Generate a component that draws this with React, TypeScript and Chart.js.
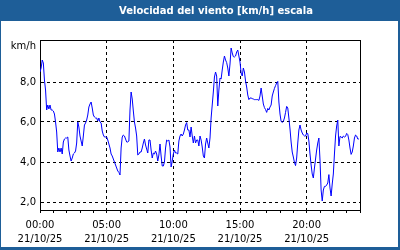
import { useEffect, useRef } from "react";
import { Chart, registerables } from "chart.js";

Chart.register(...registerables);

const TITLE = "Velocidad del viento [km/h] escala";
const UNIT = "km/h";
const DATE_LABEL = "21/10/25";
const STEP_MINUTES = 5;
const X_LABEL_HOURS = [0, 5, 10, 15, 20];
const Y_TICKS = [2, 4, 6, 8];

// wind speed every 5 minutes from 00:00 (km/h)
const speed = [
  8.5, 8.7, 9.1, 8.95, 8.1, 7.6, 6.6, 6.85, 6.65, 6.85, 6.6, 6.6,
  6.55, 6.4, 6.0, 5.5, 4.5, 4.7, 4.5, 4.7, 4.4, 5.0, 5.15, 5.2,
  5.2, 5.25, 4.6, 4.3, 4.05, 4.2, 4.4, 4.45, 4.55, 4.95, 6.0, 5.75,
  5.3, 5.05, 4.8, 5.3, 5.85, 5.95, 6.1, 6.35, 6.75, 6.9, 7.0, 6.7,
  6.35, 6.25, 6.2, 6.2, 6.05, 6.2, 6.0, 5.95, 5.55, 5.35, 5.25, 5.25,
  5.25, 5.1, 4.9, 4.7, 4.4, 4.3, 4.15, 4.0, 3.85, 3.7, 3.55, 3.48,
  3.35, 4.7, 5.25, 5.35, 5.3, 5.15, 5.0, 5.0, 5.05, 6.6, 7.5, 7.15,
  6.55, 6.0, 5.7, 5.3, 4.35, 4.4, 4.5, 4.5, 4.7, 4.95, 5.15, 4.85,
  4.65, 4.45, 5.1, 5.1, 4.6, 4.2, 4.45, 4.4, 4.55, 4.4, 4.05, 4.35,
  4.9, 4.3, 3.8, 3.8, 4.0, 4.7, 5.1, 5.05, 5.1, 4.75, 3.75, 4.05,
  4.4, 4.6, 4.45, 4.45, 4.4, 5.05, 5.3, 5.4, 5.3, 5.4, 5.6, 5.85,
  5.97, 5.6, 5.6, 5.25, 5.75, 5.3, 4.95, 5.3, 4.95, 5.1, 5.1, 4.8,
  5.3, 5.1, 4.75, 4.3, 4.2, 4.9, 5.2, 4.95, 4.7, 5.2, 6.2, 6.85,
  7.5, 8.25, 8.5, 8.3, 6.8, 7.6, 8.2, 8.15, 8.6, 9.0, 9.3, 9.1,
  8.97, 8.7, 8.3, 8.9, 9.7, 9.45, 9.27, 9.25, 9.3, 9.5, 9.6, 9.3,
  9.0, 8.45, 8.3, 8.7, 8.5, 8.05, 7.75, 7.35, 7.12, 7.2, 7.2, 7.17,
  7.15, 7.12, 7.12, 7.12, 7.12, 7.08, 7.3, 7.7, 7.3, 6.9, 6.72, 6.62,
  6.48, 6.68, 6.6, 6.75, 6.85, 7.3, 7.5, 7.68, 7.82, 7.95, 8.03, 7.0,
  6.4, 6.03, 5.98, 6.03, 6.2, 6.48, 6.78, 6.7, 6.2, 5.65, 5.0, 4.5,
  4.25, 3.98, 3.82, 4.2, 4.95, 5.6, 5.85, 5.6, 5.45, 5.35, 5.3, 5.3,
  5.45, 5.42, 5.05, 4.4, 3.85, 3.4, 3.2, 3.7, 4.15, 4.6, 4.95, 5.2,
  4.1, 2.6, 2.05, 2.6, 2.78, 2.78, 2.85, 2.95, 3.37, 2.7, 2.3, 2.9,
  3.4, 4.4, 5.3, 5.8, 6.1, 4.8, 5.28, 5.25, 5.2, 5.3, 5.25, 5.28,
  5.43, 5.37, 5.1, 4.7, 4.38, 4.5, 4.8, 5.2, 5.35, 5.3, 5.15, 5.15,
];

const FONT = "'DejaVu Sans', Verdana, sans-serif";
const FRAME_BLUE = "#1e5e98";

const hourLabel = (h: number) => `${String(h).padStart(2, "0")}:00`;

const framePlugin = {
  id: "frame",
  beforeDraw(chart: any) {
    const { ctx, width, height } = chart;
    ctx.save();
    ctx.fillStyle = FRAME_BLUE;
    ctx.fillRect(0, 0, width, height);
    ctx.fillStyle = "#ffffff";
    ctx.fillRect(1, 21, width - 3, height - 24);
    ctx.fillStyle = "#ffffff";
    ctx.font = `bold 10px ${FONT}`;
    ctx.textAlign = "center";
    ctx.textBaseline = "middle";
    ctx.fillText(TITLE, 216, 11);
    ctx.restore();
  },
  afterDraw(chart: any) {
    const { ctx, chartArea } = chart;
    const { left, top, right, bottom } = chartArea;
    ctx.save();
    ctx.strokeStyle = "#000";
    ctx.lineWidth = 1;
    ctx.beginPath();
    ctx.moveTo(left, top + 0.5);
    ctx.lineTo(right + 1, top + 0.5);
    ctx.moveTo(right + 0.5, top);
    ctx.lineTo(right + 0.5, bottom + 1);
    ctx.stroke();
    ctx.fillStyle = "#000";
    ctx.font = `10px ${FONT}`;
    ctx.textAlign = "right";
    ctx.textBaseline = "middle";
    ctx.fillText(UNIT, left - 4, top + 6);
    ctx.restore();
  },
};

export default function App() {
  const ref = useRef<HTMLCanvasElement | null>(null);

  useEffect(() => {
    if (!ref.current) return;
    const points = speed.map((v, i) => ({ x: (i * STEP_MINUTES) / 60, y: v }));
    const chart = new Chart(ref.current, {
      type: "line",
      data: {
        datasets: [
          {
            data: points,
            borderColor: "#0000ff",
            borderWidth: 1,
            pointRadius: 0,
            tension: 0,
            fill: false,
          },
        ],
      },
      options: {
        animation: false,
        responsive: false,
        devicePixelRatio: 1,
        layout: { padding: { left: 0, top: 40, right: 40, bottom: 0 } },
        plugins: {
          legend: { display: false },
          title: { display: false },
          tooltip: { enabled: false },
        },
        scales: {
          x: {
            type: "linear",
            min: 0,
            max: 24,
            afterFit: (s: any) => {
              s.height = 40;
            },
            ticks: {
              stepSize: 1,
              autoSkip: false,
              maxRotation: 0,
              padding: 5,
              color: "#000",
              font: { family: FONT, size: 10, lineHeight: 1.4 },
              callback: (v: any) =>
                X_LABEL_HOURS.includes(Number(v)) ? [hourLabel(Number(v)), DATE_LABEL] : "",
            },
            grid: {
              color: (c: any) => {
                const v = c.tick ? c.tick.value : -1;
                return v % 5 === 0 && v > 0 && v < 24 ? "#000" : "rgba(0,0,0,0)";
              },
              tickColor: "#000",
              tickLength: 3,
              tickBorderDash: [],
              lineWidth: 1,
            },
            border: { color: "#000", width: 1, dash: [3, 3] },
          },
          y: {
            min: 1.6,
            max: 10.1,
            afterFit: (s: any) => {
              s.width = 40;
            },
            afterBuildTicks: (a: any) => {
              a.ticks = Y_TICKS.map((v) => ({ value: v }));
            },
            ticks: {
              padding: 4,
              color: "#000",
              font: { family: FONT, size: 10 },
              callback: (v: any) => Number(v).toFixed(1).replace(".", ","),
            },
            grid: { color: "#000", drawTicks: false, lineWidth: 1 },
            border: { color: "#000", width: 1, dash: [3, 3] },
          },
        },
      },
      plugins: [framePlugin],
    });
    return () => chart.destroy();
  }, []);

  return (
    <div style={{ position: "absolute", left: 0, top: 0, width: 400, height: 250 }}>
      <canvas ref={ref} width={400} height={250} style={{ display: "block" }} />
    </div>
  );
}
